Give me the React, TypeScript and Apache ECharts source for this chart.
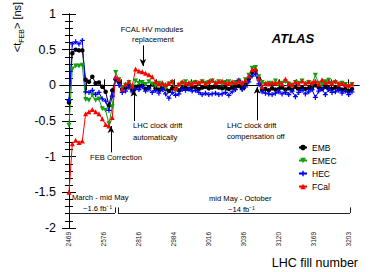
import React, { useEffect, useRef } from 'react';
import * as echarts from 'echarts';

const fillLabels = ['2469', '2576', '2816', '2984', '3016', '3036', '3120', '3169', '3203'];
const seriesNames = ['EMB', 'EMEC', 'HEC', 'FCal'];

const emb = [
  -0.24, 0.45, 0.5, 0.49, 0.49, 0.08, 0.05, 0.12, 0.03, 0.04,
  -0.02, -0.09, -0.28, -0.07, 0.09, 0.05, -0.06, -0.03, 0.01, -0.06,
  -0.02, -0.01, 0.0, -0.05, -0.03, 0.01, -0.04, -0.06, -0.02, -0.05,
  -0.08, -0.04, -0.05, -0.07, -0.04, -0.03, -0.05, -0.02, -0.03, -0.05,
  -0.03, -0.02, -0.04, -0.03, -0.02, -0.03, -0.04, -0.03, -0.05, -0.03,
  -0.02, -0.01, -0.04, 0.02, 0.09, 0.18, 0.21, 0.1, -0.06, -0.05,
  -0.07, -0.04, -0.06, -0.05, -0.03, -0.06, -0.04, -0.06, -0.02, -0.05,
  -0.03, -0.05, -0.04, -0.02, 0.0, -0.03, -0.05, -0.02, -0.04, -0.05,
  -0.03, -0.04, -0.06, -0.05, -0.08, -0.05,
];
const emec = [
  -0.56, 0.23, 0.27, 0.27, 0.28, -0.2, -0.21, -0.14, -0.21, -0.19,
  -0.33, -0.35, -0.54, -0.3, 0.18, 0.08, -0.03, 0.0, 0.04, -0.02,
  0.06, 0.03, 0.04, 0.01, 0.05, 0.02, -0.01, 0.03, 0.0, -0.04,
  0.02, 0.04, -0.08, 0.0, 0.03, 0.05, 0.01, 0.03, 0.04, 0.02,
  0.05, 0.03, 0.04, 0.06, 0.03, 0.05, 0.02, 0.04, 0.05, 0.02,
  0.04, 0.06, 0.02, 0.08, 0.14, 0.24, 0.25, 0.12, 0.04, 0.01,
  0.03, 0.02, 0.06, 0.01, 0.03, 0.05, 0.02, 0.0, 0.04, 0.03,
  0.06, 0.02, 0.04, 0.01, 0.14, 0.03, 0.01, 0.05, 0.07, 0.03,
  0.04, 0.02, 0.03, 0.01, -0.02, 0.01,
];
const hec = [
  -0.21, 0.58, 0.61, 0.58, 0.63, -0.09, -0.1, -0.07, -0.13, -0.1,
  -0.19, -0.22, -0.35, -0.15, 0.08, 0.0, -0.1, -0.08, -0.03, -0.09,
  -0.05, -0.06, -0.02, -0.08, -0.05, -0.1, -0.07, -0.11, -0.06, -0.12,
  -0.18, -0.1, -0.14, -0.12, -0.06, -0.07, -0.05, -0.08, -0.07, -0.1,
  -0.13, -0.11, -0.13, -0.12, -0.11, -0.13, -0.12, -0.1, -0.14, -0.09,
  -0.06, 0.07, -0.06, -0.02, 0.05, 0.13, 0.16, 0.02, -0.09, -0.11,
  -0.12, -0.13, -0.11, -0.09, -0.12, -0.1, -0.13, -0.08, -0.16, -0.1,
  -0.07, -0.12, -0.09, -0.06, -0.17, -0.08, -0.05, -0.13, -0.06, -0.1,
  -0.09, -0.07, -0.11, -0.08, -0.13, -0.09,
];
const fcal = [
  -1.5, -0.82, -0.77, -0.8, -0.78, -0.4, -0.37, -0.34, -0.37, -0.4,
  -0.47, -0.55, -0.57, -0.45, 0.12, 0.09, -0.05, 0.02, 0.05, -0.01,
  0.23, 0.2, 0.19, 0.17, 0.15, 0.12, 0.05, 0.02, 0.04, 0.01,
  0.03, 0.06, -0.04, 0.02, 0.05, 0.03, 0.04, 0.02, 0.05, 0.04,
  0.06, 0.03, 0.05, 0.07, 0.04, 0.05, 0.06, 0.04, 0.03, 0.05,
  0.04, 0.06, 0.04, 0.07, 0.13, 0.22, 0.23, 0.1, -0.02, 0.03,
  0.02, 0.04, 0.03, 0.05, 0.02, 0.09, 0.03, 0.01, 0.05, 0.02,
  0.06, 0.03, 0.05, 0.04, 0.06, 0.02, 0.08, 0.04, 0.05, 0.03,
  0.06, 0.02, 0.03, 0.01, 0.0, 0.02,
];

const LABEL_STEP = 10.5; // bins between labelled fills
const X_MIN = -2.7;
const X_MAX = 87.1;
const FONT = 'Liberation Sans, Arial, Helvetica, sans-serif';

const labelValues = fillLabels.map((_, k) => k * LABEL_STEP);
const tickValues: number[] = [];
for (let k = 0; k <= (fillLabels.length - 1) * 2; k++) tickValues.push((k * LABEL_STEP) / 2);

const plusPath = 'path://M3,0h2v3h3v2h-3v3h-2v-3h-3v-2h3z';

function toPairs(arr: number[]) {
  return arr.map((v, i) => [i, v]);
}

export default function App() {
  const ref = useRef<HTMLDivElement>(null);
  useEffect(() => {
    const chart = echarts.init(ref.current!, null, { renderer: 'svg' });
    const black = '#000';
    const txt = (text: string, x: number, y: number, extra: any = {}) => ({
      type: 'text',
      x,
      y,
      silent: true,
      style: {
        text,
        fill: black,
        fontSize: 7.6,
        fontFamily: FONT,
        align: 'left',
        verticalAlign: 'middle',
        ...extra,
      },
    });
    const seg = (x1: number, y1: number, x2: number, y2: number) => [
      { coord: [x1, y1] },
      { coord: [x2, y2] },
    ];
    const option: any = {
      animation: false,
      backgroundColor: '#fff',
      grid: { left: 60, right: 19, top: 14, bottom: 44 },
      legend: {
        data: seriesNames,
        orient: 'vertical',
        left: 293,
        top: 137,
        itemWidth: 8,
        itemHeight: 7,
        itemGap: 2,
        textStyle: { fontSize: 8.5, fontFamily: FONT, color: black, lineHeight: 11 },
        selectedMode: false,
      },
      xAxis: [
        {
          type: 'value',
          min: X_MIN,
          max: X_MAX,
          position: 'bottom',
          axisLine: { lineStyle: { color: black, width: 1 } },
          axisTick: {
            show: true,
            inside: true,
            length: 6,
            customValues: tickValues,
            lineStyle: { color: black },
          },
          axisLabel: {
            show: true,
            customValues: labelValues,
            rotate: 90,
            fontSize: 6.5,
            fontFamily: FONT,
            color: '#222',
            margin: 4,
            formatter: (v: number) => fillLabels[Math.round(v / LABEL_STEP)] ?? '',
          },
          splitLine: { show: false },
        },
        {
          type: 'value',
          min: X_MIN,
          max: X_MAX,
          position: 'top',
          axisLine: { show: true, lineStyle: { color: black, width: 1 } },
          axisTick: {
            show: true,
            inside: true,
            length: 5,
            customValues: tickValues,
            lineStyle: { color: black },
          },
          axisLabel: { show: false },
          splitLine: { show: false },
        },
      ],
      yAxis: [
        {
          type: 'value',
          min: -2,
          max: 1,
          interval: 0.5,
          position: 'left',
          axisLine: { show: true, lineStyle: { color: black, width: 1 } },
          axisTick: { show: true, inside: true, length: 7, lineStyle: { color: black } },
          minorTick: { show: true, splitNumber: 5, length: 4, lineStyle: { color: black } },
          axisLabel: { fontSize: 12.5, fontFamily: FONT, color: black, margin: 4 },
          splitLine: { show: false },
        },
        {
          type: 'value',
          min: -2,
          max: 1,
          interval: 0.5,
          position: 'right',
          axisLine: { show: true, lineStyle: { color: black, width: 1 } },
          axisTick: { show: true, inside: true, length: 7, lineStyle: { color: black } },
          minorTick: { show: true, splitNumber: 5, length: 4, lineStyle: { color: black } },
          axisLabel: { show: false },
          splitLine: { show: false },
        },
      ],
      series: [
        {
          name: 'EMB',
          type: 'line',
          data: toPairs(emb),
          symbol: 'circle',
          symbolSize: 4.5,
          color: '#000000',
          lineStyle: { width: 1 },
          markLine: {
            silent: true,
            symbol: ['none', 'arrow'],
            symbolSize: [5, 7],
            label: { show: false },
            lineStyle: { type: 'solid', color: black, width: 1 },
            emphasis: { disabled: true },
            data: [
              seg(22.2, 0.56, 22.2, 0.27),
              seg(19.5, -0.5, 19.5, -0.06),
              seg(12.6, -0.94, 12.6, -0.57),
              seg(56.5, -0.49, 56.5, -0.02),
            ],
          },
        },
        {
          name: 'EMEC',
          type: 'line',
          data: toPairs(emec),
          symbol: 'triangle',
          symbolRotate: 180,
          symbolSize: 5,
          color: '#11a011',
          lineStyle: { width: 1 },
        },
        {
          name: 'HEC',
          type: 'line',
          data: toPairs(hec),
          symbol: plusPath,
          symbolSize: 5,
          color: '#0000ff',
          lineStyle: { width: 1 },
        },
        {
          name: 'FCal',
          type: 'line',
          data: toPairs(fcal),
          symbol: 'triangle',
          symbolSize: 5,
          color: '#ff0000',
          lineStyle: { width: 1 },
          markLine: {
            silent: true,
            symbol: ['none', 'none'],
            label: { show: false },
            lineStyle: { type: 'solid', color: '#222', width: 1 },
            emphasis: { disabled: true },
            data: [
              seg(0, -1.71, 0, -1.79),
              seg(0, -1.79, 13.8, -1.79),
              seg(13.8, -1.79, 13.8, -1.71),
              seg(14.7, -1.71, 14.7, -1.79),
              seg(14.7, -1.79, 84.4, -1.79),
              seg(84.4, -1.79, 84.4, -1.71),
            ],
          },
        },
      ],
      graphic: [
        {
          type: 'text',
          x: 15,
          y: 27,
          rotation: Math.PI / 2,
          silent: true,
          style: {
            text: '{a|<t}{b|FEB}{a|> [ns]}',
            fill: black,
            align: 'center',
            verticalAlign: 'middle',
            rich: {
              a: { fontSize: 11, fontFamily: FONT, fill: black, lineHeight: 14, verticalAlign: 'bottom' },
              b: { fontSize: 7, fontFamily: FONT, fill: black, lineHeight: 14, verticalAlign: 'bottom', padding: [0, 0, -3, 0] },
            },
          },
        },
        txt('LHC fill number', 358, 263, { fontSize: 12.5, align: 'right' }),
        txt('ATLAS', 293, 38, { fontSize: 13, fontWeight: 'bold', fontStyle: 'italic', align: 'center' }),
        txt('FCAL HV modules', 152, 29, { align: 'center' }),
        txt('replacement', 153, 39, { align: 'center' }),
        txt('LHC clock drift', 133, 125),
        txt('automatically', 133, 137),
        txt('FEB Correction', 90, 157),
        txt('LHC clock drift', 227, 125),
        txt('compensation off', 227, 136),
        txt('March - mid May', 72, 197),
        txt('~1.6 fb⁻¹', 83, 208),
        txt('mid May - October', 209, 198),
        txt('~14 fb⁻¹', 228, 209),
      ],
    };
    chart.setOption(option);
    return () => chart.dispose();
  }, []);
  return (
    <div
      ref={ref}
      style={{ position: 'absolute', left: 0, top: 0, width: 378, height: 272 }}
    />
  );
}
